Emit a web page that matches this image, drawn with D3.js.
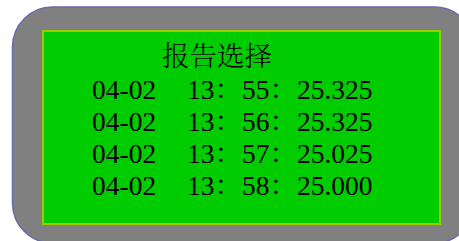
<!DOCTYPE html>
<html>
<head>
<meta charset="utf-8">
<script src="https://cdn.jsdelivr.net/npm/d3@7"></script>
<style>
    html, body { margin: 0; padding: 0; background: #ffffff; overflow: hidden; }
</style>
</head>
<body>
<svg id="panel"></svg>
<script>
const TITLE = '报告选择';
const DATES = ['04-02', '04-02', '04-02', '04-02'];
const TIMES = ['13：55', '13：56', '13：57', '13：58'];
const VALUES = ['25.325', '25.325', '25.025', '25.000'];

const WIDTH = 459;
const HEIGHT = 241;
const FONT = '"Liberation Serif", "Times New Roman", "Noto Serif CJK SC", "Noto Sans CJK SC", serif';

function drawPanel() {
    const svg = d3.select('#panel')
        .attr('width', WIDTH)
        .attr('height', HEIGHT);

    // outer grey case
    svg.append('rect')
        .attr('x', 12.5)
        .attr('y', 7)
        .attr('width', 462)
        .attr('height', 236)
        .attr('rx', 40)
        .attr('ry', 40)
        .style('fill', '#808080')
        .style('stroke', '#6a6aaa')
        .style('stroke-width', '1.5px');

    // green screen
    svg.append('rect')
        .attr('x', 43)
        .attr('y', 31)
        .attr('width', 397)
        .attr('height', 193)
        .style('fill', '#00cc00')
        .style('stroke', '#99cc00')
        .style('stroke-width', '2px');

    svg.append('text')
        .attr('x', 162)
        .attr('y', 66)
        .text(TITLE)
        .style('font-family', '"Noto Serif CJK SC", "Noto Sans CJK SC", serif')
        .style('font-size', '27.5px')
        .style('font-weight', '300')
        .style('fill', '#000');

    const rows = d3.range(DATES.length);
    const y = d3.scalePoint()
        .domain(rows)
        .range([99, 195]);

    const row = svg.selectAll('.row')
        .data(rows)
        .enter().append('g')
        .attr('class', 'row')
        .attr('transform', d => `translate(0, ${y(d)})`);

    row.append('text')
        .attr('x', 92)
        .text(d => DATES[d])
        .style('font-family', FONT)
        .style('font-size', '27.5px')
        .style('fill', '#000');

    row.append('text')
        .attr('x', 187)
        .text(d => `${TIMES[d]}：${VALUES[d]}`)
        .style('font-family', FONT)
        .style('font-size', '27.5px')
        .style('fill', '#000');
}

drawPanel();
</script>
</body>
</html>
